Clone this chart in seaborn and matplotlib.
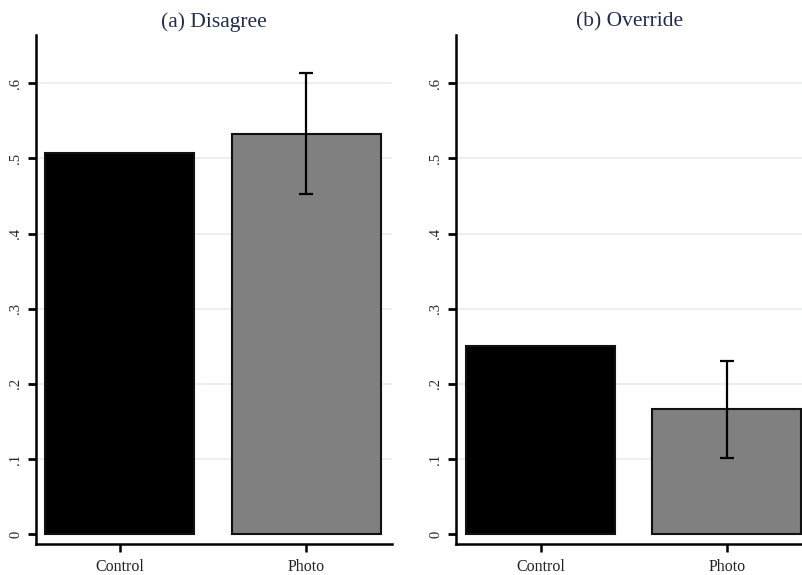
import matplotlib.pyplot as plt
import seaborn as sns

# values
groups = ['Control', 'Photo']
disagree = [0.507, 0.533]
disagree_ci = [None, (0.453, 0.614)]
override = [0.251, 0.166]
override_ci = [None, (0.101, 0.230)]
titles = ['(a) Disagree', '(b) Override']
yticks = [0, 0.1, 0.2, 0.3, 0.4, 0.5, 0.6]
ytick_labels = ['0', '.1', '.2', '.3', '.4', '.5', '.6']

sns.set_style('white', {'xtick.bottom': True, 'ytick.left': True,
                        'xtick.color': 'black', 'ytick.color': 'black'})
plt.rcParams['font.family'] = ['Liberation Serif', 'DejaVu Serif']

fig = plt.figure(figsize=(8.03, 5.75), dpi=100)
ax1 = fig.add_axes([0.0448, 0.054, 0.443, 0.885])
ax2 = fig.add_axes([0.568, 0.054, 0.432, 0.885])

colors = ['#000000', '#808080']
xlims = [(-0.45, 1.46), (-0.454, 1.41)]

for ax, vals, cis, title, xl in zip([ax1, ax2], [disagree, override],
                                    [disagree_ci, override_ci], titles, xlims):
    for y in yticks[1:]:
        ax.axhline(y, color='#e6ecee', lw=1.2, zorder=0)
    sns.barplot(x=groups, y=vals, hue=groups, palette=colors, legend=False,
                width=0.8, edgecolor='#111111', linewidth=1.5, ax=ax,
                zorder=2)
    for i, ci in enumerate(cis):
        if ci is None:
            continue
        ax.errorbar(i, vals[i], yerr=[[vals[i] - ci[0]], [ci[1] - vals[i]]],
                    fmt='none', ecolor='black', elinewidth=1.6, capsize=5,
                    capthick=1.6, zorder=3)
    ax.set_xlim(*xl)
    ax.set_ylim(-0.013, 0.664)
    ax.set_yticks(yticks, ytick_labels)
    ax.set_xlabel('')
    ax.set_ylabel('')
    sns.despine(ax=ax)
    for s in ['left', 'bottom']:
        ax.spines[s].set_linewidth(1.8)
        ax.spines[s].set_color('black')
    ax.tick_params(axis='x', labelsize=11.5, length=6, width=1.8, direction='out',
                   bottom=True, color='black', labelcolor='#222222', pad=5)
    ax.tick_params(axis='y', labelsize=10.5, labelrotation=90, length=6,
                   width=2, direction='out', left=True, color='black',
                   labelcolor='#222222', pad=4)
    for lab in ax.get_yticklabels():
        lab.set_va('center')
    ax.set_title(title, fontsize=15.5, color='#1f2d4d', pad=6)

fig.savefig('out.png', dpi=100)
